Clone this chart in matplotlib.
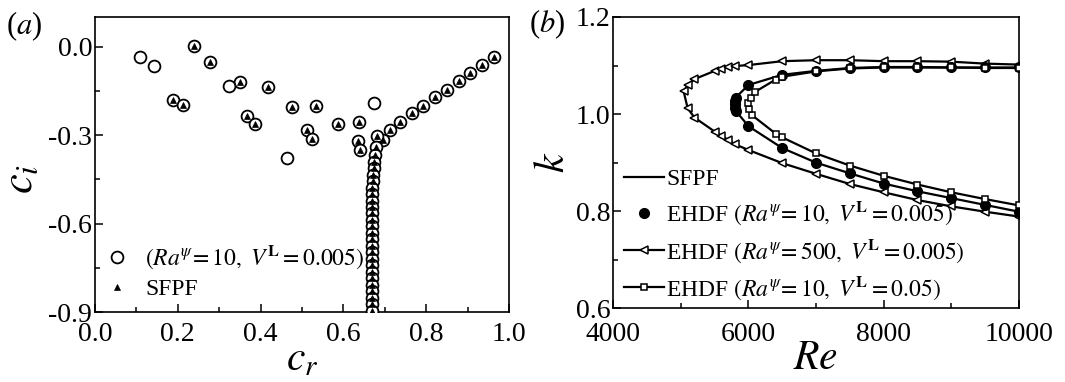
import matplotlib
matplotlib.use("Agg")
import matplotlib.pyplot as plt
from matplotlib.ticker import MultipleLocator

plt.rcParams["font.family"] = ["Liberation Serif", "DejaVu Serif"]
plt.rcParams["mathtext.fontset"] = "stix"

# ---------------- (a) eigenvalue spectrum ----------------
# points shared by both spectra (SFPF triangles sit inside EHDF circles)
sfpf_cr = [0.240, 0.278, 0.189, 0.213, 0.350, 0.417, 0.368, 0.386, 0.476, 0.533,
           0.512, 0.523, 0.588, 0.637, 0.636, 0.641,
           0.965, 0.936, 0.907, 0.879, 0.851, 0.821, 0.792, 0.766, 0.736, 0.712,
           0.695, 0.681, 0.678,
           0.676, 0.674, 0.673, 0.672, 0.671, 0.670, 0.670, 0.669, 0.669, 0.669,
           0.668, 0.668, 0.668, 0.668, 0.668, 0.668, 0.668, 0.668, 0.668, 0.668,
           0.668, 0.668, 0.668, 0.668, 0.668]
sfpf_ci = [0.002, -0.051, -0.182, -0.198, -0.122, -0.137, -0.235, -0.264, -0.204, -0.203,
           -0.283, -0.312, -0.264, -0.257, -0.322, -0.351,
           -0.034, -0.062, -0.090, -0.118, -0.146, -0.171, -0.200, -0.227, -0.256, -0.284,
           -0.318, -0.304, -0.342,
           -0.368, -0.390, -0.412, -0.434, -0.456, -0.478, -0.500, -0.522, -0.544, -0.566,
           -0.588, -0.610, -0.632, -0.654, -0.676, -0.698, -0.720, -0.742, -0.764, -0.786,
           -0.808, -0.830, -0.852, -0.874, -0.896]
# modes that appear only with the electric field
ehdf_extra_cr = [0.109, 0.142, 0.323, 0.463, 0.674]
ehdf_extra_ci = [-0.034, -0.067, -0.135, -0.379, -0.191]
ehdf_cr = sfpf_cr + ehdf_extra_cr
ehdf_ci = sfpf_ci + ehdf_extra_ci

# ---------------- (b) neutral curves ----------------
sfpf_re = [10000, 9500, 9000, 8500, 8000, 7500, 7000, 6500, 6000, 5810, 5800, 5795,
           5800, 5810, 6000, 6500, 7000, 7500, 8000, 8500, 9000, 9500, 10000]
sfpf_k = [0.799, 0.813, 0.827, 0.841, 0.857, 0.878, 0.900, 0.930, 0.975, 1.007, 1.013, 1.020,
          1.027, 1.034, 1.060, 1.081, 1.089, 1.095, 1.097, 1.097, 1.096, 1.096, 1.096]

ra10_re = [10000, 9500, 9000, 8500, 8000, 7500, 7000, 6500, 6000, 5810, 5800, 5795,
           5800, 5810, 6000, 6500, 7000, 7500, 8000, 8500, 9000, 9500, 10000]
ra10_k = [0.799, 0.813, 0.827, 0.841, 0.857, 0.878, 0.900, 0.930, 0.975, 1.007, 1.013, 1.020,
          1.027, 1.034, 1.060, 1.081, 1.089, 1.095, 1.097, 1.097, 1.096, 1.096, 1.096]

ra500_re = [10000, 9500, 9000, 8500, 8000, 7500, 7000, 6500, 6000, 5800, 5700, 5600, 5500,
            5200, 5100, 5040, 5100, 5200, 5500, 5600, 5700, 5800, 6000, 6500, 7000, 7500,
            8000, 8500, 9000, 9500, 10000]
ra500_k = [0.789, 0.799, 0.810, 0.823, 0.839, 0.856, 0.877, 0.899, 0.926, 0.938, 0.947, 0.955,
           0.964, 0.993, 1.012, 1.047, 1.060, 1.072, 1.089, 1.093, 1.096, 1.099, 1.101, 1.109,
           1.111, 1.111, 1.109, 1.109, 1.108, 1.104, 1.102]

v005_re = [10000, 9500, 9000, 8500, 8000, 7500, 7000, 6500, 6400, 6050, 6010, 6000,
           6030, 6100, 6400, 6500, 7000, 7500, 8000, 8500, 9000, 9500, 10000]
v005_k = [0.812, 0.825, 0.839, 0.855, 0.873, 0.894, 0.919, 0.952, 0.960, 0.998, 1.010, 1.023,
          1.034, 1.046, 1.071, 1.077, 1.088, 1.094, 1.096, 1.096, 1.096, 1.095, 1.095]

TICK_FS = 20
LEG_FS_A = 17
LEG_FS_B = 17

fig = plt.figure(figsize=(10.65, 3.82), dpi=100)
ax1 = fig.add_axes([0.0892, 0.1832, 0.3887, 0.7723])
ax2 = fig.add_axes([0.5759, 0.1929, 0.3807, 0.7626])

for ax in (ax1, ax2):
    for s in ax.spines.values():
        s.set_linewidth(1.2)
    ax.tick_params(which="both", direction="in", top=False, right=False,
                   labelsize=TICK_FS, width=1.1)
    ax.tick_params(axis="y", which="both", pad=2)
    ax.tick_params(which="major", length=6)
    ax.tick_params(which="minor", length=3.5)
ax1.tick_params(axis="x", which="both", pad=7)
ax2.tick_params(axis="x", which="both", pad=9.5)

# panel (a)
ax1.plot(ehdf_cr, ehdf_ci, ls="none", marker="o", ms=8.5, mfc="white", mec="black",
         mew=1.3, label=r"$(Ra^{\psi}\!= 10,\ V^{\mathbf{L}} = 0.005)$", zorder=3)
ax1.plot(sfpf_cr, sfpf_ci, ls="none", marker="^", ms=5, mfc="black", mec="black",
         mew=0.5, label="SFPF", zorder=4)
ax1.set_xlim(0.0, 1.0)
ax1.set_ylim(-0.9, 0.1)
ax1.xaxis.set_major_locator(MultipleLocator(0.2))
ax1.xaxis.set_minor_locator(MultipleLocator(0.1))
ax1.yaxis.set_major_locator(MultipleLocator(0.3))
ax1.yaxis.set_minor_locator(MultipleLocator(0.15))
ax1.set_xticklabels([f"{v:.1f}" for v in ax1.get_xticks()])
ax1.set_yticklabels([f"{v:.1f}" for v in ax1.get_yticks()])
ax1.set_xlabel(r"$c_r$", fontsize=30, labelpad=-4)
ax1.set_ylabel(r"$c_i$", fontsize=32)
ax1.yaxis.set_label_coords(-0.13, 0.45)
ax1.legend(loc="lower left", bbox_to_anchor=(-0.01, -0.015), frameon=False,
           fontsize=LEG_FS_A, handlelength=0.8, handletextpad=0.8,
           labelspacing=0.3, borderpad=0.2)
fig.text(0.006, 0.975, r"($a$)", fontsize=22, va="top")

# panel (b)
ax2.plot(sfpf_re, sfpf_k, color="black", lw=1.6, label="SFPF", zorder=2)
ax2.plot(ra10_re, ra10_k, ls="none", marker="o", ms=7, mfc="black", mec="black",
         label=r"EHDF $(Ra^{\psi}\!= 10,\ V^{\mathbf{L}} = 0.005)$", zorder=3)
ax2.plot(ra500_re, ra500_k, color="black", lw=1.6, marker="<", ms=6.2, mfc="white",
         mec="black", mew=1.1,
         label=r"EHDF $(Ra^{\psi}\!= 500,\ V^{\mathbf{L}} = 0.005)$", zorder=2)
ax2.plot(v005_re, v005_k, color="black", lw=1.6, marker="s", ms=4.4, mfc="white",
         mec="black", mew=1.1,
         label=r"EHDF $(Ra^{\psi}\!= 10,\ V^{\mathbf{L}} = 0.05)$", zorder=4)
ax2.set_xlim(4000, 10000)
ax2.set_ylim(0.6, 1.2)
ax2.xaxis.set_major_locator(MultipleLocator(2000))
ax2.xaxis.set_minor_locator(MultipleLocator(1000))
ax2.yaxis.set_major_locator(MultipleLocator(0.2))
ax2.yaxis.set_minor_locator(MultipleLocator(0.1))
ax2.set_xticklabels([f"{int(v)}" for v in ax2.get_xticks()])
ax2.set_yticklabels([f"{v:.1f}" for v in ax2.get_yticks()])
ax2.set_xlabel(r"$Re$", fontsize=30, labelpad=-5)
ax2.set_ylabel(r"$k$", fontsize=30, labelpad=2)
ax2.legend(loc="lower left", bbox_to_anchor=(-0.015, -0.035), frameon=False,
           fontsize=LEG_FS_B, handlelength=1.7, handletextpad=0.1,
           labelspacing=0.42, borderpad=0.2)
fig.text(0.497, 0.98, r"($b$)", fontsize=22, va="top")

fig.savefig("out.png", dpi=100)
